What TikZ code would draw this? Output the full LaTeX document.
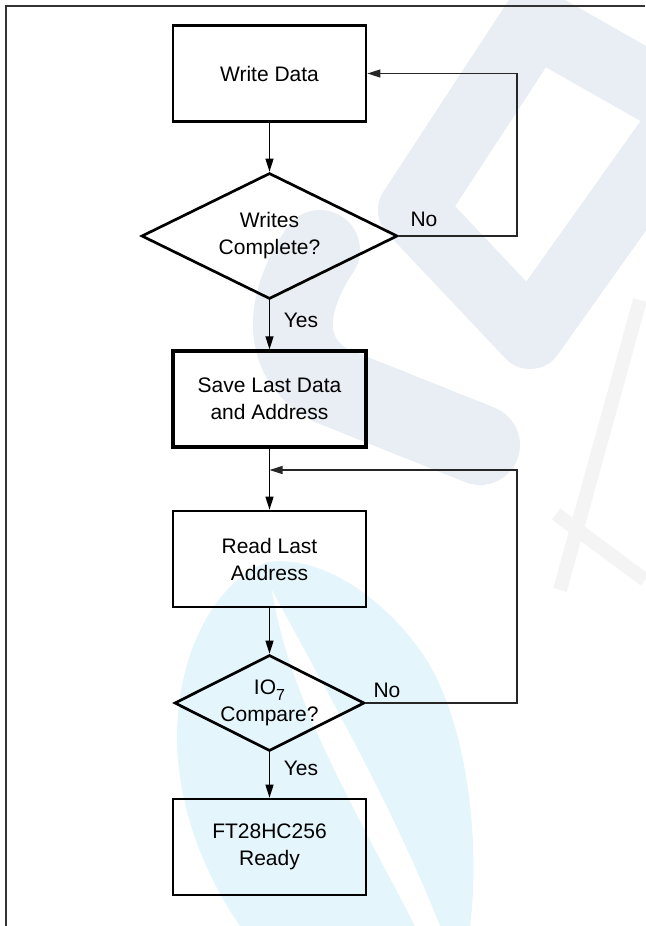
\documentclass[tikz,border=0pt]{standalone}
\usepackage{fontspec}
\setmainfont{Liberation Sans}
\usetikzlibrary{shapes.geometric,arrows.meta}
\definecolor{wmgray}{HTML}{E9EEF4}
\definecolor{wmcyan}{HTML}{E4F5FC}
\definecolor{wmlight}{HTML}{F4F4F4}
\definecolor{framecol}{HTML}{333333}
\begin{document}
\begin{tikzpicture}[x=1pt,y=-1pt,
  txt/.style={font=\fontsize{21}{27}\selectfont},
  box/.style={txt,draw,line width=2.7pt,rectangle,minimum width=193pt,minimum height=96pt,inner sep=0pt,align=center},
  boldbox/.style={box,line width=3.3pt},
  decision/.style={txt,draw,line width=2.7pt,diamond,inner sep=0pt,align=center},
  flow/.style={line width=1.2pt,-{Triangle[length=13pt,width=8pt]}},
  loopline/.style={line width=1.1pt,draw=black!85,-{Triangle[length=13pt,width=8pt]}},
  lbl/.style={txt,inner sep=0pt},
  framel/.style={line width=1.2pt,draw=framecol}]
\useasboundingbox (0,0) rectangle (645,926);
% watermark
\draw[wmgray,line width=68pt,line join=round] (535,22) -- (690,110) -- (530,335) -- (412,210) -- cycle;
\draw[wmgray,line width=80pt,line cap=round] (320,250) .. controls (280,310) and (285,360) .. (330,385) -- (480,445);
\draw[wmlight,line width=14pt] (640,300) -- (560,590);
\draw[wmlight,line width=14pt] (556,514) -- (645,580);
\fill[wmcyan] (268,562) .. controls (215,580) and (170,660) .. (178,760) .. controls (184,830) and (215,890) .. (240,926) -- (470,926) .. controls (480,850) and (470,720) .. (420,650) .. controls (380,595) and (320,555) .. (268,562) -- cycle;
\fill[white] (272,590) .. controls (290,700) and (350,800) .. (415,926) -- (440,926) .. controls (390,800) and (320,680) .. (272,590) -- cycle;
% frame
\draw[framel] (6,926) -- (6,6) -- (645,6);
% nodes
\node[box] (wd) at (269.5,73.5) {Write Data};
\node[decision,aspect=2.03,minimum width=256pt,minimum height=126pt] (d1) at (269.5,236) {Writes\\Complete?};
\node[boldbox] (sv) at (269.5,399) {Save Last Data\\and Address};
\node[box] (rd) at (269.5,559) {Read Last\\Address};
\node[decision,aspect=1.98,minimum width=190pt,minimum height=96pt] (d2) at (269.5,703) {IO\raisebox{-6pt}{\fontsize{16}{16}\selectfont 7}\\Compare?};
\node[box] (rdy) at (269.5,847) {FT28HC256\\Ready};
\coordinate (rx) at (517,0);
\coordinate (j) at (269.5,470);
% labels
\node[lbl] (no1) at (424,219) {No};
\node[lbl] (yes1) at (301,320) {Yes};
\node[lbl] (no2) at (387,690) {No};
\node[lbl] (yes2) at (301,768) {Yes};
% connectors
\draw[flow] (wd.south) -- (d1.north);
\draw[loopline] (d1.east) -| (rx |- wd.east) -- (wd.east);
\draw[flow] (d1.south) -- (sv.north);
\draw[flow] (sv.south) -- (rd.north);
\draw[loopline] (d2.east) -| (rx |- j) -- (j);
\draw[flow] (rd.south) -- (d2.north);
\draw[flow] (d2.south) -- (rdy.north);
\end{tikzpicture}
\end{document}
